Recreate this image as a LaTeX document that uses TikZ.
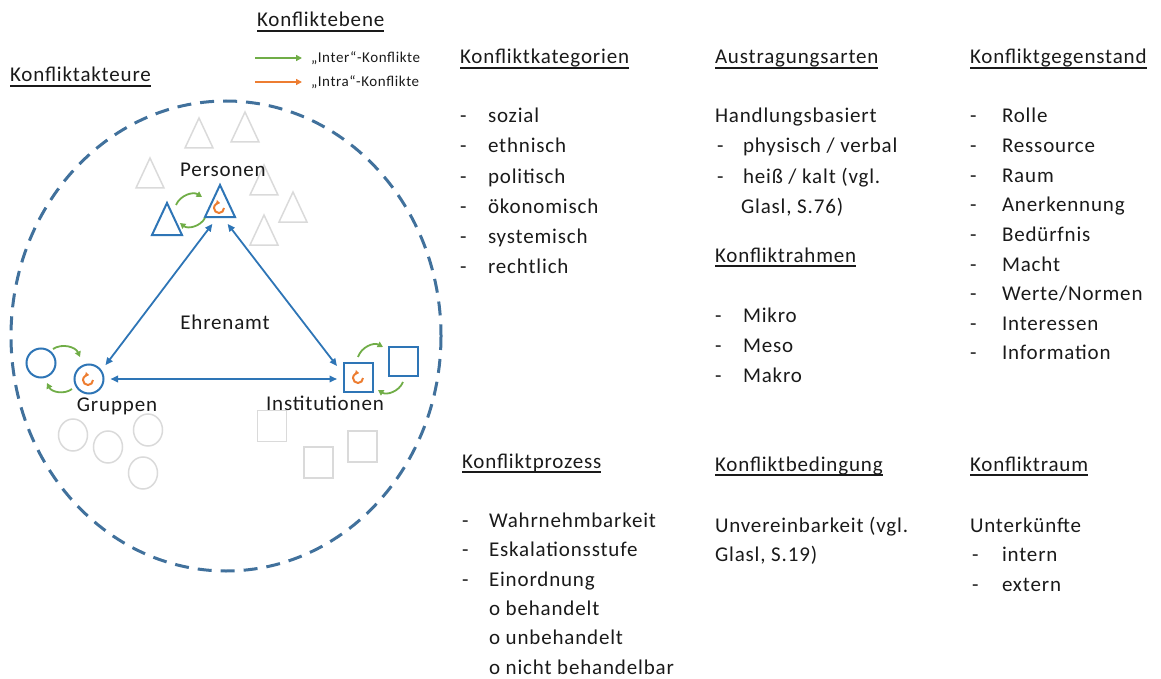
\documentclass[tikz,border=0pt]{standalone}
\usepackage{fontspec}
\setmainfont{Carlito}[LetterSpace=4]
\usetikzlibrary{arrows.meta}
\definecolor{txt}{HTML}{1A1A1A}
\definecolor{ring}{HTML}{41719C}
\definecolor{actor}{HTML}{2E75B6}
\definecolor{inter}{HTML}{70AD47}
\definecolor{intra}{HTML}{ED7D31}
\definecolor{faint}{HTML}{DADADA}
% underlined heading at a fixed distance below the baseline
\newcommand\ulbox[1]{\setbox0\hbox{#1}\rlap{\rule[-4.7pt]{\wd0}{1.4pt}}\box0}
\begin{document}
\begin{tikzpicture}[x=1pt, y=-1pt,
  font=\fontsize{21}{25}\selectfont, text=txt,
  lbl/.style={inner sep=0pt, outer sep=0pt, anchor=base west},
  actorlabel/.style={inner sep=0pt, anchor=base},
  small/.style={lbl, font=\fontsize{15}{17}\selectfont},
  faintline/.style={draw=faint, line width=1.5pt},
  actorline/.style={draw=actor, line width=2pt},
  circ/.style={circle, actorline, minimum size=29pt, inner sep=0pt, outer sep=7pt},
  sq/.style={rectangle, actorline, minimum size=29pt, inner sep=0pt, outer sep=7pt},
  hub/.style={circle, minimum size=44pt, inner sep=0pt},
  link/.style={draw=actor, line width=1.8pt, {Triangle[length=7.5pt,width=6.5pt]}-{Triangle[length=7.5pt,width=6.5pt]}},
  interarrow/.style={draw=inter, line width=1.8pt, -{Triangle[length=5.5pt,width=6pt]}},
  intraarrow/.style={draw=intra, line width=1.8pt, -{Triangle[length=6pt,width=6pt]}},
  ftri/.pic={\path[faintline] (0,-15) -- (14,15) -- (-14,15) -- cycle;},
  btri/.pic={\path[actorline] (0,-16) -- (15,16) -- (-15,16) -- cycle;},
  selfcycle/.pic={\draw[draw=intra, line width=2pt, -{Triangle[length=3.5pt,width=5pt]}]
     (5,0) arc[start angle=0, end angle=280, radius=5];},
]
\useasboundingbox (0,0) rectangle (1161,679);

% ---------- actor field ----------
\draw[ring, line width=3pt, dash pattern=on 14pt off 9pt] (226,336) ellipse [x radius=215, y radius=235];

% faint background members
\foreach \x/\y in {199/133, 245/127, 150/173, 264/180, 293/207, 264/230}
  \pic at (\x,\y) {ftri};
\foreach \x/\y in {73/435, 108/447, 148/430, 143/473}
  \draw[faintline] (\x,\y) ellipse [x radius=14.5, y radius=16];
\foreach \x/\y in {272/426, 318.5/462.5, 362.5/446.5}
  \draw[faintline] (\x-14.5,\y-15.5) rectangle (\x+14.5,\y+15.5);

% actors
\pic at (167,219) {btri};
\pic at (220,201) {btri};
\node[hub] (P) at (220,203) {};
\node[circ] (g2) at (41,363) {};
\node[circ] (G) at (89,379) {};
\node[sq] (I) at (358.5,377.5) {};
\node[sq] (i2) at (403.5,361.5) {};

% intra-conflicts
\pic at (219,208) {selfcycle};
\pic at (88,380) {selfcycle};
\pic at (358,378) {selfcycle};

% inter-conflicts between members of one actor type
\coordinate (pa1) at (176,205); \coordinate (pa2) at (202,197);
\coordinate (pb1) at (205,218); \coordinate (pb2) at (180,223);
\coordinate (ga1) at (53,349);  \coordinate (ga2) at (80,357);
\coordinate (gb1) at (72,389);  \coordinate (gb2) at (47,383);
\coordinate (ia1) at (358,357); \coordinate (ia2) at (383,347);
\coordinate (ib1) at (403,382); \coordinate (ib2) at (378,390);
\foreach \a/\b in {pa1/pa2, pb1/pb2, ga1/ga2, gb1/gb2, ia1/ia2, ib1/ib2}
  \draw[interarrow] (\a) to[bend left=50] (\b);

% links between actor types
\draw[link] (P.250) -- (G.40);
\draw[link] (P.290) -- (I.152);
\draw[link] (G.east) -- (I.west |- G.east);

% actor labels
\node[actorlabel] (tP) at (223,177) {Personen};
\node[actorlabel] (tG) at (117,411) {Gruppen};
\node[actorlabel] (tI) at (325,410) {Institutionen};
\node[actorlabel] (tE) at (225,329) {Ehrenamt};

% ---------- headings ----------
\node[lbl] (hEbene) at (257,27) {\ulbox{Konfliktebene}};
\node[lbl] (hAkteure) at (10,82) {\ulbox{Konfliktakteure}};
\node[lbl] (hKat) at (460,64) {\ulbox{Konfliktkategorien}};
\node[lbl] (hAus) at (715,64) {\ulbox{Austragungsarten}};
\node[lbl] (hGeg) at (970,64) {\ulbox{Konfliktgegenstand}};
\node[lbl] (hRahmen) at (715,262) {\ulbox{Konfliktrahmen}};
\node[lbl] (hProz) at (462,468) {\ulbox{Konfliktprozess}};
\node[lbl] (hBed) at (715,471) {\ulbox{Konfliktbedingung}};
\node[lbl] (hRaum) at (970,471) {\ulbox{Konfliktraum}};

% legend
\coordinate (lga) at (255,58); \coordinate (lgb) at (302,58);
\coordinate (loa) at (255,82); \coordinate (lob) at (302,82);
\draw[interarrow, -{Triangle[length=6pt,width=6pt]}] (lga) -- (lgb);
\draw[intraarrow] (loa) -- (lob);
\node[small] (lgInter) at (311,63) {„Inter“-Konflikte};
\node[small] (lgIntra) at (311,87) {„Intra“-Konflikte};

% ---------- lists ----------
\foreach \t [count=\i from 0] in {sozial, ethnisch, politisch, ökonomisch, systemisch, rechtlich} {
  \node[lbl] (kd\i) at (460,123+30*\i) {-};
  \node[lbl] (kt\i) at (488,123+30*\i) {\t};
}
\foreach \t [count=\i from 0] in {Rolle, Ressource, Raum, Anerkennung, Bedürfnis, Macht, Werte/Normen, Interessen, Information} {
  \node[lbl] (gd\i) at (970,123+29.6*\i) {-};
  \node[lbl] (gt\i) at (1002,123+29.6*\i) {\t};
}
\node[lbl] (aus0) at (715,123) {Handlungsbasiert};
\node[lbl] (ausd1) at (717,153) {-};
\node[lbl] (aus1) at (743,153) {physisch / verbal};
\node[lbl] (ausd2) at (717,183) {-};
\node[lbl] (aus2) at (743,183) {heiß / kalt (vgl.};
\node[lbl] (aus3) at (741,213) {Glasl, S.76)};
\foreach \t [count=\i from 0] in {Mikro, Meso, Makro} {
  \node[lbl] (rd\i) at (715,322+30*\i) {-};
  \node[lbl] (rt\i) at (743,322+30*\i) {\t};
}
\foreach \t [count=\i from 0] in {Wahrnehmbarkeit, Eskalationsstufe, Einordnung} {
  \node[lbl] (pd\i) at (462,527+29.5*\i) {-};
  \node[lbl] (pt\i) at (489,527+29.5*\i) {\t};
}
\foreach \t [count=\i from 0] in {o behandelt, o unbehandelt, o nicht behandelbar}
  \node[lbl] (po\i) at (489,615+29.5*\i) {\t};
\node[lbl] (bed0) at (715,532) {Unvereinbarkeit (vgl.};
\node[lbl] (bed1) at (715,561) {Glasl, S.19)};
\node[lbl] (raum0) at (970,532) {Unterkünfte};
\node[lbl] (raumd1) at (972,561) {-};
\node[lbl] (raum1) at (1002,561) {intern};
\node[lbl] (raumd2) at (972,591) {-};
\node[lbl] (raum2) at (1002,591) {extern};
\end{tikzpicture}
\end{document}
